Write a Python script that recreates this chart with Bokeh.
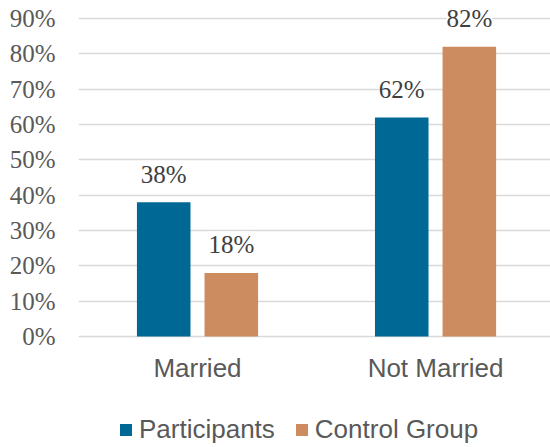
from bokeh.plotting import figure
from bokeh.models import (ColumnDataSource, Range1d, FixedTicker, LabelSet,
                          Legend, LegendItem)
from bokeh.core.properties import value
from bokeh.embed import file_html
from bokeh.resources import INLINE

# ---- data ----
categories = ["Married", "Not Married"]
participants = [38, 62]
control = [18, 82]
series_names = ["Participants", "Control Group"]
y_ticks = [0, 10, 20, 30, 40, 50, 60, 70, 80, 90]
y_tick_labels = ["0%", "10%", "20%", "30%", "40%", "50%", "60%", "70%", "80%", "90%"]

# ---- styling ----
colors = ["#006894", "#CD8C5F"]
offset = 0.142
bar_w = 0.225
num_font = "Liberation Serif"
txt_font = "Liberation Sans"

centers = [i + 0.5 for i in range(len(categories))]

src_p = ColumnDataSource(dict(
    x=[c - offset for c in centers], top=participants,
    label=[f"{v}%" for v in participants]))
src_c = ColumnDataSource(dict(
    x=[c + offset for c in centers], top=control,
    label=[f"{v}%" for v in control]))
src_cat = ColumnDataSource(dict(x=centers, y=[0] * len(centers), label=categories))

p = figure(width=550, height=447, output_backend="svg", toolbar_location=None,
           x_range=Range1d(0, 1.983), y_range=Range1d(-31.4, 92.55),
           x_axis_location=None,
           min_border_left=78, min_border_right=0, min_border_top=9,
           min_border_bottom=0)
p.outline_line_color = None
p.background_fill_color = "white"
p.border_fill_color = "white"

r1 = p.vbar(x="x", top="top", width=bar_w, source=src_p, fill_color=colors[0],
            line_color=None)
r2 = p.vbar(x="x", top="top", width=bar_w, source=src_c, fill_color=colors[1],
            line_color=None)

for src in (src_p, src_c):
    lbl = LabelSet(x="x", y="top", text="label", source=src, y_offset=28,
                   text_align="center", text_baseline="middle",
                   text_font=value(num_font), text_font_size="25px",
                   text_color="#404040", background_fill_color="white")
    p.add_layout(lbl)

# category labels (x axis)
p.add_layout(LabelSet(x="x", y="y", text="label", source=src_cat, y_offset=-31,
                      text_align="center", text_baseline="middle",
                      text_font=value(txt_font), text_font_size="26px",
                      text_color="#595959"))

# y axis
p.yaxis.ticker = FixedTicker(ticks=y_ticks)
p.yaxis.major_label_overrides = {t: l for t, l in zip(y_ticks, y_tick_labels)}
p.yaxis.axis_line_color = None
p.yaxis.major_tick_line_color = None
p.yaxis.minor_tick_line_color = None
p.yaxis.major_tick_out = 0
p.yaxis.major_tick_in = 0
p.yaxis.major_label_standoff = 23
p.yaxis.major_label_text_font = num_font
p.yaxis.major_label_text_font_size = "25px"
p.yaxis.major_label_text_color = "#595959"

p.xgrid.grid_line_color = None
p.ygrid.ticker = FixedTicker(ticks=y_ticks)
p.ygrid.grid_line_color = "#D9D9D9"
p.ygrid.grid_line_width = 1.5

legend = Legend(items=[LegendItem(label=series_names[0], renderers=[r1]),
                       LegendItem(label=series_names[1], renderers=[r2])],
                orientation="horizontal", location=(40, 2),
                label_text_font=txt_font, label_text_font_size="26px",
                label_text_color="#595959", glyph_width=15, glyph_height=15,
                label_height=26, spacing=19, label_standoff=6, padding=0,
                margin=0, border_line_color=None, background_fill_alpha=0)
p.add_layout(legend)

open("out.html", "w").write(file_html(p, INLINE))
